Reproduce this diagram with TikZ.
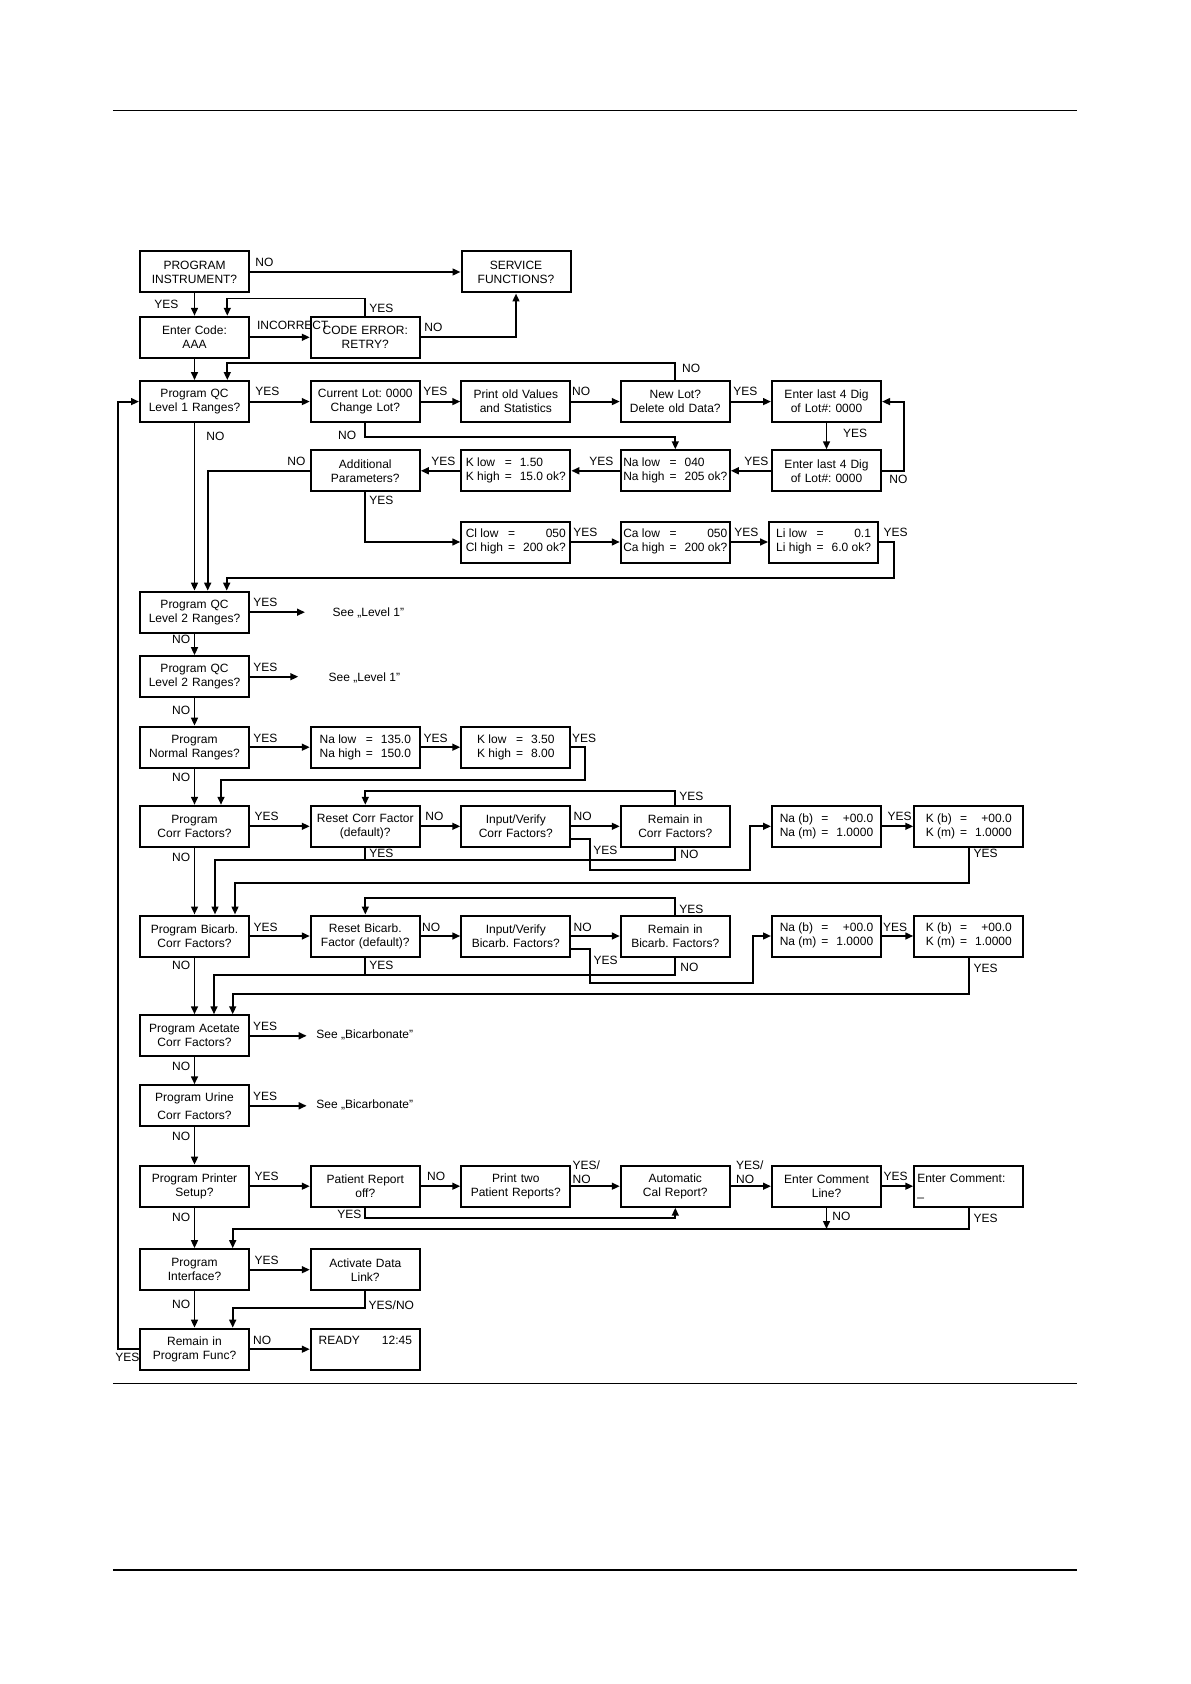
\documentclass[tikz,border=0pt]{standalone}
\usepackage{fontspec}
\setmainfont{Liberation Sans}
\usetikzlibrary{arrows.meta,calc}
\frenchspacing

\newcommand{\flowfont}{\fontsize{6}{7}\selectfont}
\newcommand{\vals}[2][l]{\begin{tabular}{@{}l@{\hspace{2.5pt}}c@{\hspace{4pt}}#1@{}}#2\end{tabular}}

\tikzset{
  frame/.style={draw, line width=1pt, minimum width=54.5pt, minimum height=20.5pt, inner sep=1pt, font=\flowfont},
  box/.style={frame, text width=51.5pt, align=center},
  valbox/.style={frame},
  arr/.style={-{Triangle[length=4pt,width=3.4pt]}, line width=0.95pt},
  lin/.style={line width=0.95pt},
  lab/.style={anchor=west, inner sep=0pt, font=\flowfont},
  rule/.style={line width=0.6pt}
}

\begin{document}
\begin{tikzpicture}[x=0.5pt, y=-0.5pt]
\useasboundingbox (0,0) rectangle (1190,1684);

    % Page rules
    \draw[rule] (112.8,110.6) -- (1077.2,110.6);
    \draw[rule] (112.8,1383.4) -- (1077.2,1383.4);
    \draw[rule] (112.8,1570) -- (1077.2,1570);

    % Start
    \node[box] (instr) at (194.5,272) {PROGRAM\\INSTRUMENT?};
    \node[box] (service) at (516,272) {SERVICE\\FUNCTIONS?};
    \node[box] (code) at (194.5,337.3) {Enter Code:\\AAA};
    \node[box] (codeerr) at (365.3,337.3) {CODE ERROR:\\RETRY?};

    % QC level 1
    \node[box] (qc1) at (194.5,401.6) {Program QC\\Level 1 Ranges?};
    \node[box] (curlot) at (365.3,401.6) {Current Lot: 0000\\Change Lot?};
    \node[box] (printold) at (515.8,401.6) {Print old Values\\and Statistics};
    \node[box] (newlot) at (675.3,401.6) {New Lot?\\Delete old Data?};
    \node[box] (lotA) at (826.5,401.6) {Enter last 4 Dig\\of Lot\#: 0000};
    \node[box] (lotB) at (826.5,470.8) {Enter last 4 Dig\\of Lot\#: 0000};
    \node[valbox] (nalow) at (675.3,470.8) {\vals{Na low & = & 040\\ Na high & = & 205 ok?}};
    \node[valbox] (klow) at (515.8,470.8) {\vals{K low & = & 1.50\\ K high & = & 15.0 ok?}};
    \node[box] (addpar) at (365.3,470.8) {Additional\\Parameters?};
    \node[valbox] (cllow) at (515.8,542) {\vals[r]{Cl low & = & 050\\ Cl high & = & 200 ok?}};
    \node[valbox] (calow) at (675.3,542) {\vals[r]{Ca low & = & 050\\ Ca high & = & 200 ok?}};
    \node[valbox] (lilow) at (823.6,542) {\vals[r]{Li low & = & 0.1\\ Li high & = & 6.0 ok?}};

    % QC level 2 and normal ranges
    \node[box] (qc2a) at (194.5,612.2) {Program QC\\Level 2 Ranges?};
    \node[box] (qc2b) at (194.5,676.7) {Program QC\\Level 2 Ranges?};
    \node[box] (normal) at (194.5,747.2) {Program\\Normal Ranges?};
    \node[valbox] (nanorm) at (365.3,747.2) {\vals[r]{Na low & = & 135.0\\ Na high & = & 150.0}};
    \node[valbox] (knorm) at (515.8,747.2) {\vals{K low & = & 3.50\\ K high & = & 8.00}};
    \node[lab] (see1) at (332.3,613.3) {See „Level 1"};
    \node[lab] (see2) at (328.3,677.7) {See „Level 1"};
    \coordinate (see1a) at (305,612.2);
    \coordinate (see2a) at (298.3,676.7);

    % Corr factors
    \node[box] (corr) at (194.5,826.3) {Program\\Corr Factors?};
    \node[box] (resetcorr) at (365.3,826.3) {Reset Corr Factor\\(default)?};
    \node[box] (inpcorr) at (515.8,826.3) {Input/Verify\\Corr Factors?};
    \node[box] (remcorr) at (675.3,826.3) {Remain in\\Corr Factors?};
    \node[valbox] (nabcorr) at (826.5,826.3) {\vals[r]{Na (b) & = & +00.0\\ Na (m) & = & 1.0000}};
    \node[valbox] (kbcorr) at (968.8,826.3) {\vals[r]{K (b) & = & +00.0\\ K (m) & = & 1.0000}};

    % Bicarb. factors
    \node[box] (bicarb) at (194.5,936) {Program Bicarb.\\Corr Factors?};
    \node[box] (resetbic) at (365.3,936) {Reset Bicarb.\\Factor (default)?};
    \node[box] (inpbic) at (515.8,936) {Input/Verify\\Bicarb. Factors?};
    \node[box] (rembic) at (675.3,936) {Remain in\\Bicarb. Factors?};
    \node[valbox] (nabbic) at (826.5,936) {\vals[r]{Na (b) & = & +00.0\\ Na (m) & = & 1.0000}};
    \node[valbox] (kbbic) at (968.8,936) {\vals[r]{K (b) & = & +00.0\\ K (m) & = & 1.0000}};

    % Acetate, urine
    \node[box] (acetate) at (194.5,1035.8) {Program Acetate\\Corr Factors?};
    \node[box] (urine) at (194.5,1105.8) {Program Urine\\[2pt]Corr Factors?};
    \node[lab] (seeB1) at (316,1035) {See „Bicarbonate"};
    \node[lab] (seeB2) at (316,1105.3) {See „Bicarbonate"};
    \coordinate (seeB1a) at (306.7,1035.8);
    \coordinate (seeB2a) at (306.7,1105.8);

    % Printer
    \node[box] (printer) at (194.5,1186.2) {Program Printer\\Setup?};
    \node[box] (patrep) at (365.3,1186.2) {Patient Report\\off?};
    \node[box] (printtwo) at (515.8,1186.2) {Print two\\Patient Reports?};
    \node[box] (autocal) at (675.3,1186.2) {Automatic\\Cal Report?};
    \node[box] (comline) at (826.5,1186.2) {Enter Comment\\Line?};
    \node[box, align=left] (comment) at (968.8,1186.2) {Enter Comment:\\\_};

    % Interface, end
    \node[box] (iface) at (194.5,1269.7) {Program\\Interface?};
    \node[box] (datalink) at (365.3,1269.7) {Activate Data\\Link?};
    \node[box] (remprog) at (194.5,1349.2) {Remain in\\Program Func?};
    \node[box] (ready) at (365.3,1349.2) {READY\hspace{11pt}12:45\\\strut};

    % Connectors: start
    \draw[arr] (instr.east) -- (service.west);
    \draw[arr] (instr.south) -- (code.north);
    \draw[arr] (code.east) -- (codeerr.west);
    \draw[arr] (codeerr.north) -- ++(0,-17.3) -| ($(code.north)+(32.8,0)$);
    \draw[arr] (codeerr.east) -| (service.south);
    \draw[arr] (code.south) -- (qc1.north);

    % Connectors: level 1
    \draw[arr] (qc1.east) -- (curlot.west);
    \draw[arr] (curlot.east) -- (printold.west);
    \draw[arr] (printold.east) -- (newlot.west);
    \draw[arr] (newlot.east) -- (lotA.west);
    \draw[arr] (lotA.south) -- (lotB.north);
    \draw[arr] (lotB.east) -- ++(21.7,0) |- (lotA.east);
    \draw[arr] (lotB.west) -- (nalow.east);
    \draw[arr] (nalow.west) -- (klow.east);
    \draw[arr] (klow.west) -- (addpar.east);
    \draw[arr] (newlot.north) -- ++(0,-17) -| ($(qc1.north)+(32.8,0)$);
    \draw[arr] (curlot.south) -- ++(0,13.6) -| (nalow.north);
    \draw[arr] (addpar.west) -| ($(qc2a.north)+(13.2,0)$);
    \draw[arr] (addpar.south) |- (cllow.west);
    \draw[arr] (cllow.east) -- (calow.west);
    \draw[arr] (calow.east) -- (lilow.west);
    \coordinate (liturn) at (894,577.7);
    \draw[arr] (lilow.east) -| (liturn) -| ($(qc2a.north)+(32.2,0)$);
    \draw[arr] (qc1.south) -- (qc2a.north);

    % Connectors: level 2, normal
    \draw[arr] (qc2a.east) -- (see1a);
    \draw[arr] (qc2a.south) -- (qc2b.north);
    \draw[arr] (qc2b.east) -- (see2a);
    \draw[arr] (qc2b.south) -- (normal.north);
    \draw[arr] (normal.east) -- (nanorm.west);
    \draw[arr] (nanorm.east) -- (knorm.west);
    \coordinate (kturn) at (585,780);
    \draw[arr] (knorm.east) -| (kturn) -| ($(corr.north)+(26.5,0)$);
    \draw[arr] (normal.south) -- (corr.north);

    % Connectors: corr factors
    \draw[arr] (corr.east) -- (resetcorr.west);
    \draw[arr] (resetcorr.east) -- (inpcorr.west);
    \draw[arr] (inpcorr.east) -- (remcorr.west);
    \draw[arr] (nabcorr.east) -- (kbcorr.west);
    \coordinate (ivc1) at (590,870);
    \coordinate (ivc2) at (750,826.3);
    \draw[arr] ($(inpcorr.east)+(0,12.7)$) -| (ivc1) -| (ivc2) -- (nabcorr.west);
    \coordinate (rcy) at (675.3,790.7);
    \draw[arr] (remcorr.north) -- (rcy) -| (resetcorr.north);
    \coordinate (rcn) at (675.3,860);
    \draw[arr] (remcorr.south) -- (rcn) -| ($(bicarb.north)+(20.5,0)$);
    \draw[lin] (resetcorr.south) -- (resetcorr.south |- rcn);
    \coordinate (kbc) at (968.8,883.3);
    \draw[arr] (kbcorr.south) -- (kbc) -| ($(bicarb.north)+(40.5,0)$);
    \draw[arr] (corr.south) -- (bicarb.north);

    % Connectors: bicarb. factors
    \draw[arr] (bicarb.east) -- (resetbic.west);
    \draw[arr] (resetbic.east) -- (inpbic.west);
    \draw[arr] (inpbic.east) -- (rembic.west);
    \draw[arr] (nabbic.east) -- (kbbic.west);
    \coordinate (ivb1) at (590,982.7);
    \coordinate (ivb2) at (753,936);
    \draw[arr] ($(inpbic.east)+(0,13.3)$) -| (ivb1) -| (ivb2) -- (nabbic.west);
    \coordinate (rby) at (675.3,898.3);
    \draw[arr] (rembic.north) -- (rby) -| (resetbic.north);
    \coordinate (rbn) at (675.3,975);
    \draw[arr] (rembic.south) -- (rbn) -| ($(acetate.north)+(19.5,0)$);
    \draw[lin] (resetbic.south) -- (resetbic.south |- rbn);
    \coordinate (kbb) at (968.8,994.3);
    \draw[arr] (kbbic.south) -- (kbb) -| ($(acetate.north)+(38.2,0)$);
    \draw[arr] (bicarb.south) -- (acetate.north);

    % Connectors: acetate, urine
    \draw[arr] (acetate.east) -- (seeB1a);
    \draw[arr] (acetate.south) -- (urine.north);
    \draw[arr] (urine.east) -- (seeB2a);
    \draw[arr] (urine.south) -- (printer.north);

    % Connectors: printer
    \draw[arr] (printer.east) -- (patrep.west);
    \draw[arr] (patrep.east) -- (printtwo.west);
    \draw[arr] (printtwo.east) -- (autocal.west);
    \draw[arr] (autocal.east) -- (comline.west);
    \draw[arr] (comline.east) -- (comment.west);
    \coordinate (pry) at (365.3,1217.7);
    \draw[arr] (patrep.south) -- (pry) -| (autocal.south);
    \coordinate (cmy) at (968.8,1229);
    \draw[arr] (comment.south) -- (cmy) -| ($(iface.north)+(38.2,0)$);
    \draw[arr] (comline.south) -- (comline.south |- cmy);
    \draw[arr] (printer.south) -- (iface.north);

    % Connectors: interface, end
    \draw[arr] (iface.east) -- (datalink.west);
    \coordinate (dly) at (365.3,1307.7);
    \draw[arr] (datalink.south) -- (dly) -| ($(remprog.north)+(38.2,0)$);
    \draw[arr] (iface.south) -- (remprog.north);
    \draw[arr] (remprog.east) -- (ready.west);
    \coordinate (back) at (118.3,1349.2);
    \draw[arr] (remprog.west) -- (back) |- (qc1.west);

    % Labels
    \node[lab] (l1) at (255,262.5) {NO};
    \node[lab] (l2) at (154,304) {YES};
    \node[lab] (l3) at (256.7,325.8) {INCORRECT};
    \node[lab] (l4) at (369,308.3) {YES};
    \node[lab] (l5) at (424,327.3) {NO};
    \node[lab] (l6) at (681.7,368.3) {NO};
    \node[lab] (l7) at (255,391.7) {YES};
    \node[lab] (l8) at (423,391.7) {YES};
    \node[lab] (l9) at (571.7,391.7) {NO};
    \node[lab] (l10) at (733,391.7) {YES};
    \node[lab] (l11) at (842.7,433.3) {YES};
    \node[lab] (l12) at (889,479) {NO};
    \node[lab] (l13) at (744,461) {YES};
    \node[lab] (l14) at (589,461) {YES};
    \node[lab] (l15) at (431,461) {YES};
    \node[lab] (l16) at (287,461) {NO};
    \node[lab] (l17) at (206,436.7) {NO};
    \node[lab] (l18) at (337.7,435) {NO};
    \node[lab] (l19) at (369,500) {YES};
    \node[lab] (l20) at (573,532.3) {YES};
    \node[lab] (l21) at (734,532.3) {YES};
    \node[lab] (l22) at (883.3,532.3) {YES};
    \node[lab] (l23) at (253,602.5) {YES};
    \node[lab] (l24) at (171.7,639.3) {NO};
    \node[lab] (l25) at (253,667.5) {YES};
    \node[lab] (l26) at (171.7,710) {NO};
    \node[lab] (l27) at (253,738.3) {YES};
    \node[lab] (l28) at (423.3,738.3) {YES};
    \node[lab] (l29) at (571.7,738.3) {YES};
    \node[lab] (l30) at (171.7,777.7) {NO};
    \node[lab] (l31) at (254.3,816) {YES};
    \node[lab] (l32) at (425,816) {NO};
    \node[lab] (l33) at (573.3,816) {NO};
    \node[lab] (l34) at (593,850) {YES};
    \node[lab] (l35) at (679,796) {YES};
    \node[lab] (l36) at (680,854) {NO};
    \node[lab] (l37) at (369,853.3) {YES};
    \node[lab] (l38) at (887.3,816) {YES};
    \node[lab] (l39) at (973.3,853.3) {YES};
    \node[lab] (l40) at (171.7,857.7) {NO};
    \node[lab] (l41) at (253.3,927.3) {YES};
    \node[lab] (l42) at (421.7,927.3) {NO};
    \node[lab] (l43) at (573.3,927.3) {NO};
    \node[lab] (l44) at (593.3,960) {YES};
    \node[lab] (l45) at (679,909.3) {YES};
    \node[lab] (l46) at (680,967.7) {NO};
    \node[lab] (l47) at (369,965) {YES};
    \node[lab] (l48) at (882.7,927.3) {YES};
    \node[lab] (l49) at (973.3,968.3) {YES};
    \node[lab] (l50) at (171.7,965.7) {NO};
    \node[lab] (l51) at (252.7,1026) {YES};
    \node[lab] (l52) at (171.7,1066) {NO};
    \node[lab] (l53) at (252.7,1096.7) {YES};
    \node[lab] (l54) at (171.7,1136.7) {NO};
    \node[lab] (l55) at (254.3,1176.7) {YES};
    \node[lab] (l56) at (426.7,1176.7) {NO};
    \node[lab, align=left] (l57) at (572.3,1172.2) {YES/\\NO};
    \node[lab, align=left] (l58) at (735.7,1172.2) {YES/\\NO};
    \node[lab] (l59) at (883.3,1176.7) {YES};
    \node[lab] (l60) at (337,1214) {YES};
    \node[lab] (l61) at (832,1216.7) {NO};
    \node[lab] (l62) at (973.3,1218.3) {YES};
    \node[lab] (l63) at (171.7,1217.7) {NO};
    \node[lab] (l64) at (254.3,1260) {YES};
    \node[lab] (l65) at (368.3,1305) {YES/NO};
    \node[lab] (l66) at (171.7,1304.3) {NO};
    \node[lab] (l67) at (252.7,1340) {NO};
    \node[lab] (l68) at (115,1357.3) {YES};

\end{tikzpicture}
\end{document}
